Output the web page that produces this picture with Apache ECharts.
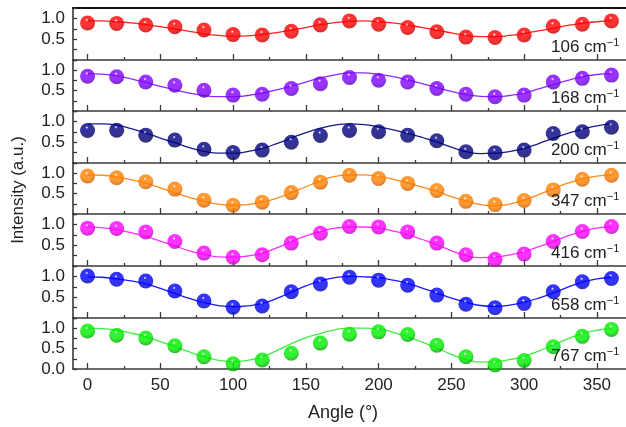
<!DOCTYPE html>
<html>
<head>
<meta charset="utf-8">
<style>
    html,body { margin:0; padding:0; background:#fff; }
    #chart { width:626px; height:427px; }
</style>
<script src="https://cdn.jsdelivr.net/npm/echarts@6/dist/echarts.min.js"></script>
</head>
<body>
<div id="chart"></div>
<script>
// measured angles and the angles the fitted curves were read at
var angles = [0,20,40,60,80,100,120,140,160,180,200,220,240,260,280,300,320,340,360];
var fitAngles = [0,10,20,30,40,50,60,70,80,90,100,110,120,130,140,150,160,170,180,
                 190,200,210,220,230,240,250,260,270,280,290,300,310,320,330,340,350,360];
var xLabels = [0,50,100,150,200,250,300,350];
var xMinor = [25,75,125,175,225,275,325];
var modes = ['106','168','200','347','416','658','767'];

// normalised intensity, one pair of arrays per Raman mode
var pts106 = [0.89,0.88,0.84,0.80,0.72,0.61,0.60,0.69,0.84,0.94,0.86,0.78,0.68,0.55,0.54,0.60,0.81,0.86,0.94];
var fit106 = [0.94,0.94,0.92,0.89,0.85,0.80,0.745,0.69,0.63,0.59,0.57,0.58,0.61,0.66,0.72,0.78,0.85,0.90,0.93,
              0.94,0.92,0.89,0.84,0.78,0.72,0.65,0.59,0.56,0.56,0.59,0.64,0.70,0.76,0.83,0.88,0.92,0.94];

var pts168 = [0.85,0.84,0.71,0.63,0.51,0.39,0.41,0.55,0.67,0.82,0.755,0.71,0.55,0.41,0.35,0.39,0.71,0.80,0.88];
var fit168 = [0.915,0.905,0.86,0.79,0.70,0.605,0.52,0.44,0.38,0.35,0.35,0.38,0.44,0.52,0.615,0.71,0.81,0.885,0.935,
              0.935,0.895,0.84,0.76,0.67,0.575,0.48,0.40,0.36,0.35,0.38,0.44,0.54,0.645,0.75,0.84,0.895,0.915];

var pts200 = [0.78,0.79,0.67,0.55,0.33,0.25,0.31,0.50,0.66,0.78,0.75,0.67,0.535,0.27,0.245,0.31,0.71,0.75,0.86];
var fit200 = [0.94,0.94,0.91,0.826,0.72,0.60,0.487,0.37,0.28,0.235,0.235,0.274,0.35,0.467,0.60,0.729,0.836,0.913,0.94,
              0.923,0.865,0.797,0.71,0.613,0.506,0.38,0.274,0.225,0.235,0.274,0.35,0.467,0.594,0.71,0.816,0.894,0.94];

var pts347 = [0.93,0.89,0.79,0.61,0.34,0.215,0.29,0.525,0.78,0.95,0.87,0.75,0.575,0.31,0.23,0.33,0.59,0.85,0.95];
var fit347 = [0.96,0.95,0.91,0.84,0.755,0.64,0.523,0.41,0.31,0.242,0.213,0.232,0.29,0.387,0.523,0.668,0.813,0.92,0.96,
              0.96,0.92,0.852,0.765,0.658,0.552,0.426,0.32,0.232,0.203,0.242,0.339,0.474,0.62,0.755,0.862,0.93,0.96];

var pts416 = [0.91,0.90,0.82,0.59,0.31,0.21,0.27,0.55,0.79,0.95,0.94,0.82,0.55,0.27,0.16,0.29,0.59,0.83,0.95];
var fit416 = [0.947,0.918,0.87,0.80,0.714,0.598,0.482,0.366,0.279,0.22,0.211,0.24,0.308,0.434,0.588,0.724,0.83,0.908,0.937,
              0.937,0.908,0.84,0.753,0.637,0.511,0.366,0.25,0.201,0.211,0.269,0.346,0.463,0.588,0.724,0.83,0.908,0.937];

var pts658 = [1.01,0.93,0.89,0.65,0.41,0.26,0.29,0.63,0.82,0.98,0.91,0.79,0.55,0.33,0.245,0.35,0.63,0.87,0.95];
var fit658 = [0.99,0.98,0.94,0.89,0.82,0.71,0.59,0.47,0.37,0.30,0.27,0.29,0.35,0.47,0.62,0.77,0.89,0.97,1.0,
              0.99,0.97,0.91,0.83,0.72,0.60,0.48,0.38,0.30,0.28,0.31,0.38,0.48,0.60,0.74,0.86,0.94,0.98];

var pts767 = [0.93,0.83,0.76,0.57,0.30,0.126,0.22,0.385,0.635,0.85,0.91,0.845,0.585,0.30,0.10,0.21,0.545,0.80,0.97];
var fit767 = [1.0,0.99,0.95,0.88,0.79,0.67,0.545,0.42,0.30,0.21,0.18,0.21,0.30,0.45,0.62,0.77,0.87,0.96,1.0,
              1.0,0.98,0.90,0.79,0.66,0.51,0.36,0.23,0.17,0.18,0.23,0.31,0.44,0.59,0.74,0.87,0.95,0.99];

var points = [pts106, pts168, pts200, pts347, pts416, pts658, pts767];
var fits = [fit106, fit168, fit200, fit347, fit416, fit658, fit767];
var colors = ['#ff0000','#8000ff','#000080','#ff8000','#ff00ff','#0000ff','#00ee00'];
var darks  = ['#a00000','#4a0099','#00003a','#b55000','#a000a0','#000090','#008a00'];
var lineColors = ['#ff2020','#8a2cff','#1a1a8a','#ff8a1a','#ff30ff','#1a1aff','#40ee40'];

var FONT = 'Liberation Sans, Arial, sans-serif';
var tops = [8,60,111,163,214,266,318];
var bottom = 369;

var grids = [], xAxes = [], yAxes = [], series = [], graphics = [];

for (var k = 0; k < 7; k++) {
    var h = (k < 6 ? tops[k+1] : bottom) - tops[k];
    grids.push({ left: 73, top: tops[k], width: 556, height: h });

    var last = (k === 6);
    // major ticks + labels
    xAxes.push({
        type: 'value', gridIndex: k, min: -10, max: 370, position: 'bottom',
        axisLine: { onZero: false, lineStyle: { color: '#3a3a3a', width: 1.6 } },
        axisTick: { inside: true, length: 6, customValues: xLabels, lineStyle: { color: '#3a3a3a', width: 1.3 } },
        axisLabel: { show: last, customValues: xLabels, color: '#222', fontSize: 17, fontFamily: FONT, margin: 8 },
        splitLine: { show: false }
    });
    // minor ticks
    xAxes.push({
        type: 'value', gridIndex: k, min: -10, max: 370, position: 'bottom',
        axisLine: { show: false },
        axisTick: { inside: true, length: 3, customValues: xMinor, lineStyle: { color: '#3a3a3a', width: 1.3 } },
        axisLabel: { show: false },
        splitLine: { show: false }
    });

    yAxes.push({
        type: 'value', gridIndex: k, min: 0, max: 1.25, interval: 0.25,
        axisLine: { show: true, onZero: false, lineStyle: { color: '#3a3a3a', width: 1.6 } },
        axisTick: { inside: true, length: 4, lineStyle: { color: '#3a3a3a', width: 1.3 } },
        axisLabel: {
            color: '#222', fontSize: 17, fontFamily: FONT, margin: 8,
            formatter: (function (isLast) {
                return function (v) {
                    if (Math.abs(v - 0.5) < 1e-6 || Math.abs(v - 1) < 1e-6) return v.toFixed(1);
                    if (isLast && Math.abs(v) < 1e-6) return '0.0';
                    return '';
                };
            })(last)
        },
        splitLine: { show: false }
    });

    series.push({
        type: 'line', xAxisIndex: 2*k, yAxisIndex: k,
        data: fitAngles.map(function (a, i) { return [a, fits[k][i]]; }),
        smooth: true, showSymbol: false, silent: true,
        lineStyle: { color: lineColors[k], width: 1.3 }, z: 2
    });
    series.push({
        type: 'scatter', xAxisIndex: 2*k, yAxisIndex: k,
        data: angles.map(function (a, i) { return [a, points[k][i]]; }),
        symbol: 'circle', symbolSize: 15, clip: false,
        itemStyle: {
            color: {
                type: 'radial', x: 0.45, y: 0.3, r: 0.78,
                colorStops: [
                    { offset: 0, color: '#ffffff' },
                    { offset: 0.14, color: colors[k] },
                    { offset: 0.55, color: colors[k] },
                    { offset: 1, color: darks[k] }
                ]
            }
        },
        z: 3
    });

    // mode label, e.g. "106 cm-1"
    graphics.push({
        type: 'text', x: 551, y: (k < 6 ? tops[k+1] : bottom) - 13, z: 10,
        style: {
            text: '{a|' + modes[k] + ' cm}{b|\u22121}',
            textVerticalAlign: 'middle',
            rich: {
                a: { fontSize: 17, fontFamily: FONT, fill: '#222', lineHeight: 20 },
                b: { fontSize: 11, fontFamily: FONT, fill: '#222', lineHeight: 12, verticalAlign: 'top' }
            }
        }
    });
}

// thick frame line on top of the first panel
xAxes.push({
    type: 'value', gridIndex: 0, min: -10, max: 370, position: 'top',
    axisLine: { onZero: false, lineStyle: { color: '#111', width: 2 } },
    axisTick: { show: false }, axisLabel: { show: false }, splitLine: { show: false }
});

graphics.push({
    type: 'text', x: 18, y: 190, rotation: Math.PI / 2,
    style: { text: 'Intensity (a.u.)', font: '17px ' + FONT, fill: '#222', textAlign: 'center', textVerticalAlign: 'middle' }
});
graphics.push({
    type: 'text', x: 343, y: 413,
    style: { text: 'Angle (\u00b0)', font: '18px ' + FONT, fill: '#222', textAlign: 'center', textVerticalAlign: 'middle' }
});

var myChart = echarts.init(document.getElementById('chart'));
myChart.setOption({
    animation: false,
    backgroundColor: '#fff',
    grid: grids,
    xAxis: xAxes,
    yAxis: yAxes,
    series: series,
    graphic: graphics
});
</script>
</body>
</html>
